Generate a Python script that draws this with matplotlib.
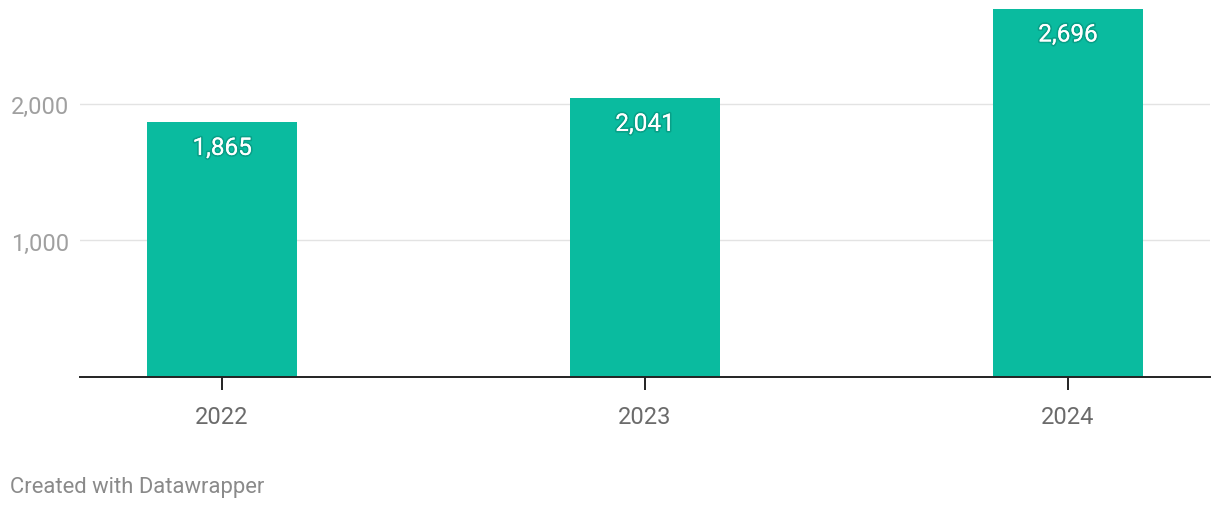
import matplotlib.pyplot as plt
import matplotlib.patheffects as pe

years = ["2022", "2023", "2024"]
values = [1865, 2041, 2696]
yticks = [1000, 2000]
ytick_labels = ["1,000", "2,000"]

plt.rcParams['font.family'] = ['Roboto', 'DejaVu Sans']

fig = plt.figure(figsize=(12.2, 5.1), dpi=100)
ax = fig.add_axes([80 / 1220, 132 / 510, 1130 / 1220, 378 / 510])

x = range(len(years))
ax.bar(x, values, width=0.355, color="#0abb9f", zorder=2)

ax.set_xlim(-0.336, 2.336)
ax.set_ylim(0, 2769)

ax.set_yticks(yticks)
ax.set_yticklabels(ytick_labels)
ax.set_xticks(list(x))
ax.set_xticklabels(years)

for s in ["top", "right", "left"]:
    ax.spines[s].set_visible(False)
ax.spines["bottom"].set_color("#222222")
ax.spines["bottom"].set_linewidth(1.4)
ax.spines["bottom"].set_zorder(3)

ax.grid(axis="y", color="#e3e3e3", linewidth=1, zorder=0)
ax.tick_params(axis="y", length=0, pad=8, labelsize=17, labelcolor="#a0a0a0")
ax.tick_params(axis="x", length=9, width=1.4, color="#222222", pad=11,
               labelsize=17, labelcolor="#6b6b6b")

for xi, v in zip(x, values):
    label = f"{v:,}"
    ax.annotate(label, (xi, v), xytext=(0, -26), textcoords="offset pixels",
                ha="center", va="center", fontsize=17.5, color="white",
                path_effects=[pe.withStroke(linewidth=2.5, foreground="#06806c", alpha=0.45), pe.Normal()],
                zorder=4)

fig.text(10 / 1220, 1 - 487 / 510, "Created with Datawrapper", ha="left", va="center",
         fontsize=15.8, color="#8a8a8a")

fig.savefig("out.png", dpi=100)
